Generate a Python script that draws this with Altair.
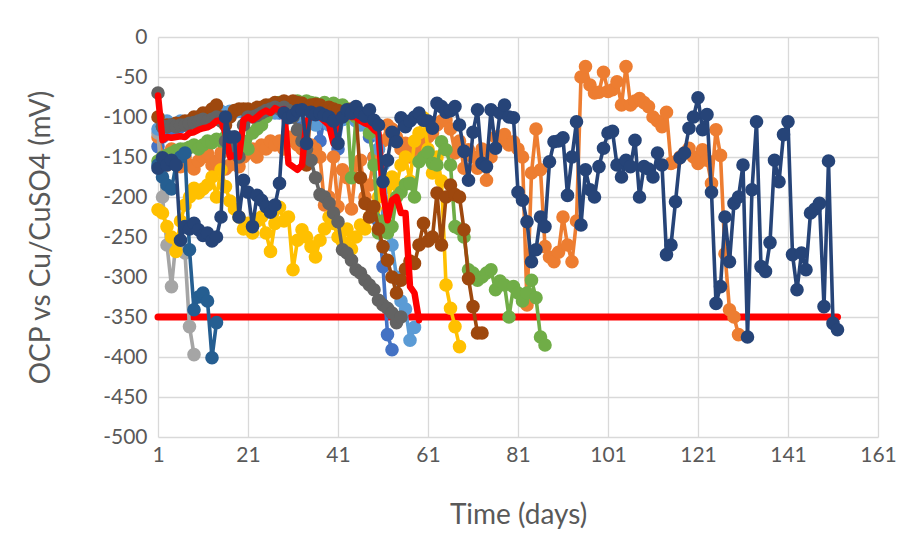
import altair as alt
import pandas as pd

# ---- data (day index starts at 1, values in mV) ----
blue_vals = [-137, -125, -120, -118, -115, -112, -110, -108, -106, -105, -100, -98, -96, -95, -94, -96, -95, -93, -92, -94,
             -95, -96, -97, -95, -92, -90, -92, -95, -93, -96, -98, -97, -110, -98, -96, -95, -130, -100, -97, -98,
             -140, -103, -100, -99, -102, -104, -110, -125, -150, -230, -287, -372, -391]

orange_vals = [-125, -150, -160, -140, -155, -162, -150, -160, -165, -155, -150, -145, -160, -155, -145, -165, -160, -150, -162, -150,
               -145, -140, -150, -135, -140, -130, -135, -130, -140, -125, -130, -135, -140, -145, -135, -140, -150, -210, -200, -150,
               -212, -166, -176, -215, -160, -154, -200, -185, -150, -140, -130, -110, -115, -125, -140, -133, -150, -140, -145, -130,
               -125, -120, -110, -105, -104, -115, -145, -130, -164, -141, -150, -164, -140, -179, -150, -125, -130, -122, -135, -131,
               -140, -150, -335, -170, -115, -166, -262, -275, -281, -269, -225, -260, -281, -230, -50, -37, -60, -70, -69, -44,
               -68, -66, -56, -85, -37, -85, -80, -77, -82, -87, -100, -105, -112, -94, -158, -156, -150, -145, -139, -150,
               -158, -141, -154, -183, -116, -148, -271, -341, -350, -372]

gray_vals = [-120, -200, -260, -312, -255, -265, -270, -362, -397]

yellow_vals = [-216, -220, -237, -250, -268, -230, -210, -200, -189, -195, -190, -185, -175, -200, -166, -187, -205, -215, -225, -240,
               -233, -245, -230, -225, -245, -268, -233, -213, -230, -225, -291, -254, -241, -250, -262, -275, -254, -240, -225, -233,
               -250, -256, -240, -265, -250, -235, -240, -225, -216, -200, -190, -216, -175, -185, -160, -150, -180, -130, -120, -101,
               -140, -170, -150, -180, -310, -339, -362, -387]

lightblue_vals = [-115, -105, -105, -110, -110, -105, -108, -105, -105, -100, -100, -98, -100, -95, -93, -95, -93, -94, -92, -93,
                  -95, -98, -97, -96, -94, -92, -95, -93, -92, -95, -100, -98, -97, -95, -97, -110, -100, -98, -110, -112,
                  -105, -103, -100, -98, -105, -110, -108, -115, -120, -140, -160, -220, -260, -300, -330, -340, -379, -363]

green_vals = [-155, -150, -148, -145, -142, -140, -140, -138, -135, -140, -135, -130, -132, -128, -130, -125, -128, -130, -135, -130,
              -140, -120, -115, -110, -100, -90, -85, -82, -82, -84, -83, -80, -82, -80, -82, -83, -85, -82, -85, -83,
              -86, -85, -90, -176, -100, -95, -100, -120, -160, -245, -230, -245, -237, -200, -194, -184, -183, -200, -156, -150,
              -144, -158, -160, -131, -141, -160, -237, -240, -250, -291, -295, -304, -300, -295, -291, -316, -305, -310, -350, -312,
              -320, -330, -320, -304, -326, -375, -385]

navy_vals = [-164, -151, -160, -154, -160, -254, -237, -240, -233, -241, -248, -245, -255, -250, -225, -100, -125, -125, -225, -179,
             -194, -237, -198, -204, -212, -219, -210, -183, -95, -101, -98, -92, -91, -133, -94, -97, -95, -98, -100, -105,
             -133, -100, -91, -95, -87, -95, -99, -91, -104, -110, -181, -154, -119, -131, -101, -112, -105, -100, -95, -104,
             -105, -114, -83, -87, -94, -92, -87, -110, -143, -179, -119, -91, -158, -162, -91, -139, -95, -85, -100, -101,
             -194, -204, -231, -281, -266, -225, -237, -156, -131, -130, -126, -198, -150, -106, -235, -166, -191, -200, -162, -139,
             -120, -118, -160, -175, -154, -162, -129, -200, -162, -165, -175, -145, -160, -272, -260, -206, -151, -145, -114, -100,
             -76, -116, -97, -194, -333, -312, -225, -281, -208, -200, -160, -375, -191, -106, -287, -293, -257, -154, -181, -122,
             -106, -272, -316, -270, -291, -220, -215, -208, -337, -155, -358, -366]

brown_vals = [-100, -112, -110, -110, -108, -108, -105, -105, -100, -100, -95, -95, -90, -85, -100, -110, -100, -92, -90, -90,
              -90, -92, -88, -88, -85, -85, -82, -83, -80, -82, -80, -82, -83, -160, -85, -84, -85, -90, -88, -90,
              -92, -95, -93, -90, -95, -176, -208, -225, -212, -240, -262, -279, -300, -320, -304, -290, -280, -283, -260, -233,
              -255, -250, -195, -260, -200, -185, -197, -200, -241, -302, -337, -370, -370]

darkgray_vals = [-70, -112, -112, -110, -112, -110, -110, -108, -107, -105, -103, -105, -103, -100, -105, -130, -140, -125, -150, -110,
                 -100, -100, -98, -95, -92, -90, -88, -90, -88, -92, -100, -116, -130, -140, -154, -176, -197, -200, -208, -220,
                 -231, -266, -270, -279, -291, -295, -304, -310, -316, -329, -335, -339, -345, -357, -350]

midblue_vals = [-160, -175, -185, -190, -160, -150, -145, -266, -341, -325, -320, -330, -401, -357]

red_vals = [-73, -129, -125, -126, -125, -124, -125, -120, -119, -116, -114, -113, -110, -105, -104, -120, -150, -148, -150, -104,
            -100, -104, -100, -95, -92, -95, -89, -92, -90, -158, -162, -166, -160, -105, -100, -98, -100, -105, -110, -133,
            -100, -100, -98, -100, -100, -105, -108, -110, -116, -120, -195, -229, -204, -200, -220, -220, -312, -320, -354]

limit_days = [1, 152]
limit_vals = [-350, -350]

x_ticks = [1, 21, 41, 61, 81, 101, 121, 141, 161]
y_ticks = [-500, -450, -400, -350, -300, -250, -200, -150, -100, -50, 0]

FONT = "Lato"
TXT = "#595959"

X = alt.X("day:Q",
          scale=alt.Scale(domain=[1, 161], nice=False, zero=False),
          axis=alt.Axis(values=x_ticks, title="Time (days)", labelFlush=False, labelOverlap=False,
                        labelPadding=7, titlePadding=36))
Y = alt.Y("value:Q",
          scale=alt.Scale(domain=[-500, 0], nice=False, zero=False),
          axis=alt.Axis(values=y_ticks, title="OCP vs Cu/CuSO4 (mV)", labelFlush=False, labelOverlap=False,
                        labelPadding=11, titlePadding=47,
                        labelExpr="datum.value == 0 ? '0' : '-' + abs(datum.value)"))


def series(vals, color, days=None, points=True, width=3.6):
    if days is None:
        days = list(range(1, len(vals) + 1))
    df = pd.DataFrame({"day": days, "value": vals})
    base = alt.Chart(df).encode(x=X, y=Y)
    layers = [base.mark_line(color=color, strokeWidth=width, strokeJoin="round", strokeCap="round")]
    if points:
        layers.append(base.mark_circle(color=color, size=185, opacity=1))
    return layers


layers = []
layers += series(limit_vals, "#FF0000", days=limit_days, points=False, width=7)
layers += series(blue_vals, "#4472C4")
layers += series(orange_vals, "#ED7D31")
layers += series(gray_vals, "#A5A5A5")
layers += series(yellow_vals, "#FFC000")
layers += series(lightblue_vals, "#5B9BD5")
layers += series(green_vals, "#70AD47")
layers += series(brown_vals, "#9E480E")
layers += series(darkgray_vals, "#636363")
layers += series(midblue_vals, "#255E91")
layers += series(red_vals, "#FF0000", points=False, width=6.5)
layers += series(navy_vals, "#264478")

chart = alt.layer(*layers).properties(
    width=720, height=400,
    autosize=alt.AutoSizeParams(type="none"),
    padding={"left": 150, "top": 29, "right": 20, "bottom": 110},
    background="white",
).configure_view(stroke=None).configure_axis(
    grid=True, gridColor="#D9D9D9", gridWidth=1.3,
    domain=False, ticks=False,
    labelFont=FONT, labelFontSize=21, labelColor=TXT,
    titleFont=FONT, titleFontSize=28, titleColor=TXT, titleFontWeight="normal",
)

chart.save("out.html", embed_options={"renderer": "svg", "actions": False})
